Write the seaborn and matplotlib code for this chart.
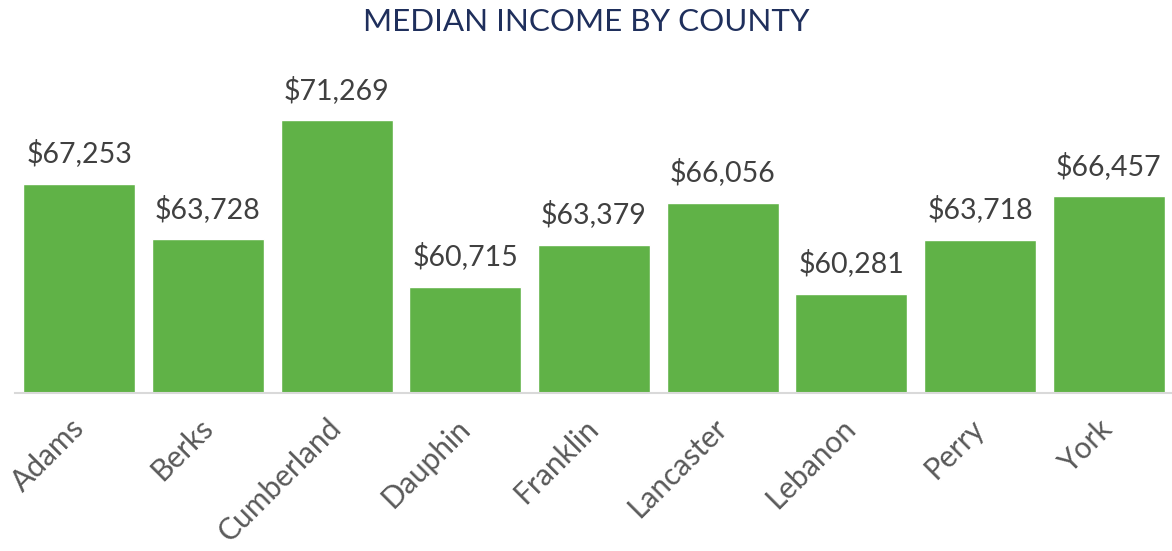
import matplotlib
matplotlib.use("Agg")
import matplotlib.pyplot as plt
import seaborn as sns
import pandas as pd

# Data
counties = ["Adams", "Berks", "Cumberland", "Dauphin", "Franklin",
            "Lancaster", "Lebanon", "Perry", "York"]
incomes = [67253, 63728, 71269, 60715, 63379, 66056, 60281, 63718, 66457]

BAR_GREEN  = "#60B247"
TITLE_NAVY = "#1F2F5C"
LABEL_GRAY = "#404040"
TICK_GRAY  = "#595959"

sns.set_theme(style="white")
plt.rcParams["font.family"] = ["Lato", "DejaVu Sans"]

df = pd.DataFrame({"county": counties, "income": incomes})

fig = plt.figure(figsize=(11.72, 5.51), dpi=100)
ax = fig.add_axes([15 / 1172, (551 - 393) / 551, 1158 / 1172, (393 - 55) / 551])

sns.barplot(data=df, x="county", y="income", color=BAR_GREEN,
            width=0.87, saturation=1, ax=ax)
ax.set_ylim(54000, 75400)

# value labels above each bar
for container in ax.containers:
    ax.bar_label(container, labels=[f"${v:,}" for v in incomes],
                 padding=12, fontsize=20.5, color=LABEL_GRAY)

# title sits centred over the whole figure
fig.text(0.5, 1 - 22 / 551, "MEDIAN INCOME BY COUNTY", ha="center", va="center",
         fontsize=22.6, color=TITLE_NAVY)

ax.set_xlabel("")
ax.set_ylabel("")
ax.set_yticks([])
for side in ["top", "right", "left"]:
    ax.spines[side].set_visible(False)
ax.spines["bottom"].set_color("#D9D9D9")
ax.spines["bottom"].set_linewidth(1.5)

ax.tick_params(axis="x", length=0, pad=22, labelsize=21.5, labelcolor=TICK_GRAY)
for lbl in ax.get_xticklabels():
    lbl.set_rotation(45)
    lbl.set_ha("right")
    lbl.set_va("center")
    lbl.set_rotation_mode("anchor")

fig.savefig("out.png", dpi=100)
